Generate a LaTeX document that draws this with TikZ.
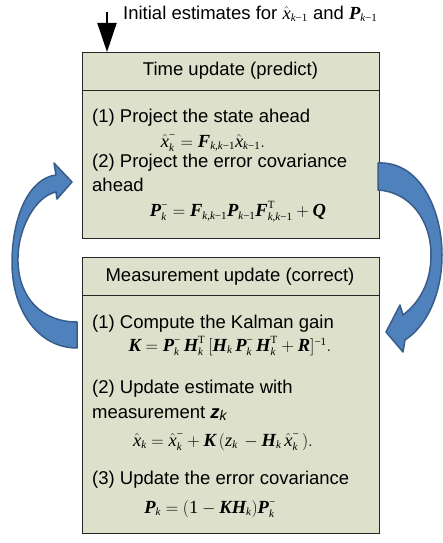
\documentclass[tikz,border=0pt]{standalone}
\usepackage{amsmath}
\usepackage{fontspec}
\setmainfont{Liberation Sans}
\newfontfamily\tms{Liberation Serif}
\usetikzlibrary{arrows.meta}
\DeclareMathSizes{18.5}{18.5}{11}{9}

% Times-style letters for the formulas
\newcommand{\bv}[1]{\text{\tms\bfseries\itshape #1}}
\newcommand{\iv}[1]{\text{\tms\itshape #1}}
\newcommand{\rv}[1]{\text{\tms #1}}
\newcommand{\km}{\text{\tms\itshape k\upshape −1}}
\newcommand{\kk}{\text{\tms\itshape k,k\upshape −1}}
\newcommand{\mn}{\text{\tms −}}
\newcommand{\xh}{\hat{\iv{x}}}
\newcommand{\gp}{\mkern3mu}

\definecolor{boxfill}{RGB}{221,224,203}
\definecolor{arrowfill}{RGB}{79,129,189}
\definecolor{arrowedge}{RGB}{56,93,138}

\tikzset{
  panel/.style={draw=black!85, line width=1pt, fill=boxfill, anchor=north west,
                inner sep=0pt, minimum width=297pt},
  txt/.style={inner sep=0pt, anchor=west, font=\fontsize{18.5}{22}\selectfont},
  eq/.style={inner sep=0pt, font=\fontsize{18.5}{22}\selectfont},
  cycarrow/.style={fill=arrowfill, draw=arrowedge, line width=1.5pt, line join=round},
}

\begin{document}
\begin{tikzpicture}[x=1pt,y=-1pt]
\useasboundingbox (0,0) rectangle (443,543);

% the two panels
\node[panel, minimum height=186pt] (tbox) at (82,52) {};
\node[panel, minimum height=276pt] (bbox) at (82,257) {};
\draw[black!85, line width=1pt] ([yshift=-38pt]tbox.north west) -- ([yshift=-38pt]tbox.north east);
\draw[black!85, line width=1pt] ([yshift=-38pt]bbox.north west) -- ([yshift=-38pt]bbox.north east);

% entry arrow with the initial estimates
\coordinate (start) at (107,12);
\draw[line width=2pt, -{Triangle[width=19pt,length=29pt]}] (start) -- (start |- tbox.north);
\node[txt] (init) at (123,14) {Initial estimates for $\xh_{\km}$\ and $\bv{P}_{\km}$};

% time update
\node[eq] (ttitle) at (230.5,71) {Time update (predict)};
\node[txt] (t1) at (92,118) {(1) Project the state ahead};
\node[eq] (teq1) at (213,143) {$\xh_{\iv{k}}^{\mn} = \bv{F}_{\kk}\xh_{\km}.$};
\node[txt] (t2) at (92,163) {(2) Project the error covariance};
\node[txt] (t2b) at (92,185) {ahead};
\node[eq] (teq2) at (238,212) {$\bv{P}_{\iv{k}}^{\mn} = \bv{F}_{\kk}\bv{P}_{\km}\bv{F}_{\kk}^{\rv{T}} + \bv{Q}$};

% measurement update
\node[eq] (btitle) at (230,277) {Measurement update (correct)};
\node[txt] (b1) at (92,324) {(1) Compute the Kalman gain};
\node[eq] (beq1) at (230,346) {$\bv{K} = \bv{P}_{\iv{k}}^{\mn}\gp\bv{H}_{\iv{k}}^{\rv{T}}\gp[\bv{H}_{\iv{k}}\gp\bv{P}_{\iv{k}}^{\mn}\gp\bv{H}_{\iv{k}}^{\rv{T}} + \bv{R}]^{\rv{−1}}.$};
\node[txt] (b2) at (92,389) {(2) Update estimate with};
\node[txt] (b2b) at (92,414) {measurement \textbf{\textit{z}}{\fontsize{14}{14}\selectfont\raisebox{-2pt}{\textit{k}}}};
\node[eq] (beq2) at (223,442) {$\xh_{\iv{k}} = \xh_{\iv{k}}^{\mn} + \bv{K}\gp(\iv{z}_{\iv{k}}\gp - \bv{H}_{\iv{k}}\gp\xh_{\iv{k}}^{\mn}\gp).$};
\node[txt] (b3) at (92,480) {(3) Update the error covariance};
\node[eq] (beq3) at (210,509) {$\bv{P}_{\iv{k}} = (\rv{1} - \bv{K}\bv{H}_{\iv{k}})\bv{P}_{\iv{k}}^{\mn}$};

% curved arrow on the left: measurement update back to time update
\draw[cycarrow]
  (77,322) -- (77,348)
  .. controls (38,348) and (12,310) .. (12,263)
  .. controls (12,215) and (30,178) .. (56,175)
  -- (54,163) -- (72,182) -- (57,199) -- (56,192)
  .. controls (36,196) and (17,228) .. (18,262)
  .. controls (19,298) and (42,322) .. (77,322) -- cycle;

% curved arrow on the right: time update into measurement update
\draw[cycarrow]
  (378,163)
  .. controls (420,161) and (442,210) .. (442,255)
  .. controls (442,292) and (428,325) .. (405,340)
  -- (403,352) -- (386,332) -- (400,305) -- (403,315)
  .. controls (420,302) and (431,282) .. (431,255)
  .. controls (431,220) and (410,192) .. (378,190) -- cycle;
\end{tikzpicture}
\end{document}
